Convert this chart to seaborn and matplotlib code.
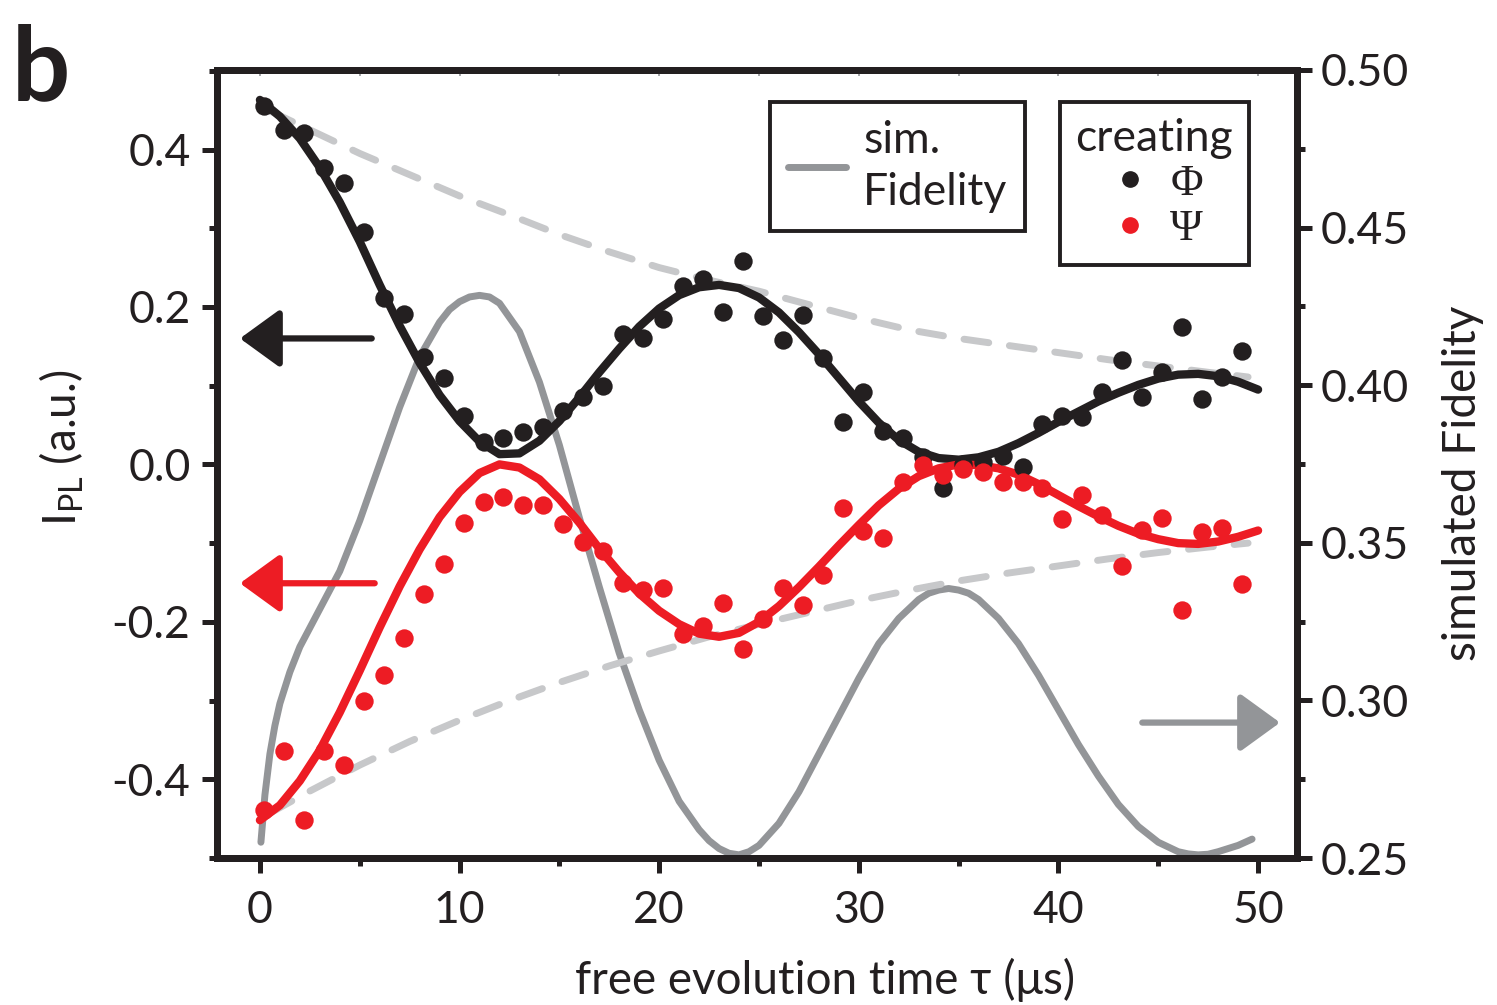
import matplotlib
matplotlib.use("Agg")
import matplotlib.pyplot as plt
from matplotlib.lines import Line2D
import seaborn as sns

# measured points (free evolution time in us)
tau_pts = [0.2, 1.2, 2.2, 3.2, 4.2, 5.2, 6.2, 7.2, 8.2, 9.2,
           10.2, 11.2, 12.2, 13.2, 14.2, 15.2, 16.2, 17.2, 18.2, 19.2,
           20.2, 21.2, 22.2, 23.2, 24.2, 25.2, 26.2, 27.2, 28.2, 29.2,
           30.2, 31.2, 32.2, 33.2, 34.2, 35.2, 36.2, 37.2, 38.2, 39.2,
           40.2, 41.2, 42.2, 43.2, 44.2, 45.2, 46.2, 47.2, 48.2, 49.2]

phi_pts = [0.455, 0.425, 0.421, 0.376, 0.357, 0.295, 0.211, 0.191, 0.137, 0.110,
           0.061, 0.028, 0.033, 0.041, 0.048, 0.068, 0.086, 0.100, 0.166, 0.160,
           0.185, 0.226, 0.235, 0.193, 0.258, 0.188, 0.158, 0.190, 0.135, 0.054,
           0.092, 0.043, 0.034, 0.009, -0.030, 0.000, 0.003, 0.011, -0.003, 0.051,
           0.061, 0.060, 0.092, 0.132, 0.086, 0.118, 0.175, 0.083, 0.111, 0.144]

psi_pts = [-0.439, -0.364, -0.452, -0.364, -0.382, -0.301, -0.267, -0.220, -0.165, -0.126,
           -0.075, -0.048, -0.042, -0.052, -0.052, -0.076, -0.099, -0.110, -0.151, -0.160,
           -0.157, -0.216, -0.205, -0.176, -0.234, -0.197, -0.157, -0.179, -0.140, -0.056,
           -0.085, -0.094, -0.022, -0.001, -0.014, -0.006, -0.010, -0.022, -0.023, -0.030,
           -0.069, -0.039, -0.064, -0.129, -0.083, -0.068, -0.185, -0.086, -0.081, -0.152]

# fit curves, read every 1 us
tau_fit = [0, 1, 2, 3, 4, 5, 6, 7, 8, 9, 10, 11, 12, 13, 14, 15, 16, 17, 18, 19,
           20, 21, 22, 23, 24, 25, 26, 27, 28, 29, 30, 31, 32, 33, 34, 35, 36, 37, 38, 39,
           40, 41, 42, 43, 44, 45, 46, 47, 48, 49, 50]

phi_fit = [0.463, 0.442, 0.414, 0.377, 0.333, 0.283, 0.228, 0.176, 0.129, 0.088,
           0.055, 0.029, 0.013, 0.014, 0.030, 0.055, 0.085, 0.117, 0.147, 0.175,
           0.198, 0.215, 0.225, 0.228, 0.224, 0.212, 0.193, 0.168, 0.140, 0.110,
           0.080, 0.053, 0.031, 0.016, 0.008, 0.006, 0.009, 0.016, 0.027, 0.040,
           0.054, 0.067, 0.080, 0.091, 0.101, 0.109, 0.114, 0.115, 0.112, 0.105, 0.095]

psi_fit = [-0.452, -0.433, -0.402, -0.363, -0.315, -0.262, -0.207, -0.155, -0.108, -0.067,
           -0.035, -0.011, 0.000, -0.004, -0.019, -0.044, -0.074, -0.107, -0.137, -0.164,
           -0.186, -0.203, -0.215, -0.219, -0.214, -0.200, -0.180, -0.156, -0.130, -0.103,
           -0.077, -0.052, -0.031, -0.015, -0.005, 0.000, -0.001, -0.005, -0.013, -0.025,
           -0.039, -0.053, -0.066, -0.078, -0.088, -0.095, -0.100, -0.101, -0.098, -0.092, -0.084]

# decay envelopes (dashed)
tau_env = [0.5, 2.5, 5, 7.5, 10, 12.5, 15, 17.5, 20, 22.5, 25, 27.5, 30, 32.5, 35,
           37.5, 40, 42.5, 45, 47.5, 49.5]
env_upper = [0.449, 0.425, 0.395, 0.368, 0.341, 0.317, 0.292, 0.270, 0.250, 0.234, 0.220,
             0.203, 0.186, 0.171, 0.160, 0.151, 0.142, 0.133, 0.125, 0.117, 0.111]
env_lower = [-0.443, -0.415, -0.382, -0.352, -0.325, -0.300, -0.277, -0.256, -0.237, -0.219,
             -0.203, -0.188, -0.173, -0.160, -0.148, -0.138, -0.129, -0.120, -0.112, -0.105, -0.100]

# simulated fidelity (right axis)
tau_sim = [0.05, 0.25, 0.5, 0.75, 1, 1.5, 2, 3, 4, 5, 6, 7, 8, 9, 9.5, 10, 10.5, 11, 11.5,
           12, 13, 14, 15, 16, 17, 18, 19, 20, 21, 22, 22.5, 23, 23.5, 24, 24.5, 25, 26,
           27, 28, 29, 30, 31, 32, 33, 33.5, 34, 34.5, 35, 35.5, 36, 37, 38, 39, 40, 41,
           42, 43, 44, 45, 46, 46.5, 47, 47.5, 48, 49, 49.7]
fid_sim = [0.255, 0.270, 0.283, 0.292, 0.299, 0.309, 0.317, 0.329, 0.341, 0.357,
           0.375, 0.393, 0.409, 0.420, 0.424, 0.4265, 0.428, 0.4285, 0.428, 0.426,
           0.417, 0.401, 0.381, 0.358, 0.336, 0.315, 0.297, 0.281, 0.268, 0.259,
           0.2555, 0.253, 0.2515, 0.251, 0.252, 0.254, 0.261, 0.271, 0.283, 0.295,
           0.307, 0.318, 0.326, 0.332, 0.334, 0.335, 0.3355, 0.335, 0.334, 0.332,
           0.326, 0.318, 0.308, 0.297, 0.286, 0.276, 0.267, 0.260, 0.255, 0.252,
           0.2513, 0.251, 0.2512, 0.252, 0.254, 0.256]

# colours
c_black = "#231f20"
c_red = "#ed1c24"
c_grey = "#939598"
c_dash = "#c7c8ca"

sns.set_style("white")
plt.rcParams['font.family'] = ['Lato', 'DejaVu Sans']
plt.rcParams['mathtext.default'] = 'regular'
plt.rcParams['font.size'] = 32
plt.rcParams['text.color'] = c_black
plt.rcParams['axes.labelcolor'] = c_black

fig = plt.figure(figsize=(14.97, 10.05), dpi=100)
ax = fig.add_axes([217 / 1497, 1 - 858 / 1005, (1297 - 217) / 1497, (858 - 70) / 1005])
ax2 = ax.twinx()
ax.set_zorder(ax2.get_zorder() + 1)
ax.patch.set_visible(False)

# simulated fidelity on right axis
sns.lineplot(x=tau_sim, y=fid_sim, ax=ax2, color=c_grey, linewidth=5,
             sort=False, estimator=None)
ax2.lines[-1].set_solid_capstyle('round')
ax2.lines[-1].set_solid_joinstyle('round')

# envelopes
for env in [env_upper, env_lower]:
    sns.lineplot(x=tau_env, y=env, ax=ax, color=c_dash, linewidth=5,
                 sort=False, estimator=None, zorder=1)
    ax.lines[-1].set_dashes((3.6, 3.0))
    ax.lines[-1].set_dash_capstyle('round')

# fits
sns.lineplot(x=tau_fit, y=phi_fit, ax=ax, color=c_black, linewidth=6,
             sort=False, estimator=None, zorder=2)
sns.lineplot(x=tau_fit, y=psi_fit, ax=ax, color=c_red, linewidth=6,
             sort=False, estimator=None, zorder=2)
for ln in ax.lines[-2:]:
    ln.set_solid_capstyle('round')
    ln.set_solid_joinstyle('round')

# data points
sns.scatterplot(x=tau_pts, y=phi_pts, ax=ax, color=c_black, s=175, linewidth=0, zorder=3)
sns.scatterplot(x=tau_pts, y=psi_pts, ax=ax, color=c_red, s=175, linewidth=0, zorder=4)

# arrows pointing to the axes
arrow_kw = dict(arrowstyle='-|>,head_length=0.62,head_width=0.45', lw=4.5,
                mutation_scale=40, capstyle='round', shrinkA=0, shrinkB=0)
ax.annotate('', xy=(-1.0, 0.160), xytext=(5.6, 0.160),
            arrowprops=dict(color=c_black, **arrow_kw))
ax.annotate('', xy=(-1.0, -0.151), xytext=(5.75, -0.151),
            arrowprops=dict(color=c_red, **arrow_kw))
ax.annotate('', xy=(51.1, -0.328), xytext=(44.2, -0.328),
            arrowprops=dict(color=c_grey, **arrow_kw))

# axes limits and ticks
ax.set_xlim(-2.15, 51.95)
ax.set_ylim(-0.497, 0.501)
ax2.set_ylim(0.25, 0.50)

ax.set_xticks([0, 10, 20, 30, 40, 50])
ax.set_xticks([5, 15, 25, 35, 45], minor=True)
ax.set_yticks([-0.4, -0.2, 0.0, 0.2, 0.4])
ax.set_yticklabels(['-0.4', '-0.2', '0.0', '0.2', '0.4'])
ax.set_yticks([-0.5, -0.3, -0.1, 0.1, 0.3, 0.5], minor=True)
ax2.set_yticks([0.25, 0.30, 0.35, 0.40, 0.45, 0.50])
ax2.set_yticklabels(['0.25', '0.30', '0.35', '0.40', '0.45', '0.50'])
ax2.set_yticks([0.275, 0.325, 0.375, 0.425, 0.475], minor=True)

for a in [ax, ax2]:
    a.tick_params(which='major', direction='out', length=11, width=3.6,
                  color=c_black, labelsize=32, labelcolor=c_black)
    a.tick_params(which='minor', direction='out', length=6, width=3.6, color=c_black)
    for sp in a.spines.values():
        sp.set_linewidth(5)
        sp.set_color(c_black)
ax.tick_params(axis='x', which='both', bottom=True, pad=12)
ax.tick_params(axis='y', which='both', left=True, pad=8)
ax2.tick_params(axis='y', which='both', right=True, pad=6)

top = ax.secondary_xaxis('top')
top.set_xticks([0, 5, 10, 15, 20, 25, 30, 35, 40, 45, 50])
top.tick_params(direction='in', length=4, width=1.2, color=c_grey, labeltop=False)
top.spines['top'].set_visible(False)

ax.set_xlabel('free evolution time \u03c4 (\u03bcs)', fontsize=33)
ax.xaxis.set_label_coords(0.563, -0.127)
ax.set_ylabel('I$_{PL}$ (a.u.)', fontsize=33)
ax.yaxis.set_label_coords(-0.121, 0.52)
ax2.set_ylabel('simulated Fidelity', fontsize=33)
ax2.yaxis.set_label_coords(1.134, 0.475)

# legends
h_sim = Line2D([], [], color=c_grey, lw=5, solid_capstyle='round')
leg1 = ax.legend([h_sim], ['sim.\nFidelity'], loc='upper left',
                 bbox_to_anchor=(770 / 1497, 1 - 102 / 1005), bbox_transform=fig.transFigure,
                 fontsize=32, frameon=True, fancybox=False, framealpha=1,
                 edgecolor=c_black, handlelength=1.3, handletextpad=0.4,
                 borderpad=0.4, borderaxespad=0)
leg1.get_frame().set_linewidth(2.8)
for t in leg1.get_texts():
    t.set_linespacing(1.35)
ax.add_artist(leg1)

h_phi = Line2D([], [], color=c_black, marker='o', ls='none', markersize=11)
h_psi = Line2D([], [], color=c_red, marker='o', ls='none', markersize=11)
leg2 = ax.legend([h_phi, h_psi], ['\u03a6', '\u03a8'], title='creating', loc='upper left',
                 bbox_to_anchor=(1060 / 1497, 1 - 102 / 1005), bbox_transform=fig.transFigure,
                 fontsize=32, title_fontsize=32, frameon=True, fancybox=False, framealpha=1,
                 edgecolor=c_black, handlelength=1.1, handletextpad=0.35,
                 borderpad=0.35, labelspacing=0.12, borderaxespad=0)
leg2.get_frame().set_linewidth(2.8)
for t in leg2.get_texts():
    t.set_fontfamily(['Liberation Serif', 'DejaVu Serif'])

# panel label
fig.text(12 / 1497, 1 - 100 / 1005, 'b', fontsize=74, fontweight='bold', color=c_black)

fig.savefig('out.png', dpi=100)
